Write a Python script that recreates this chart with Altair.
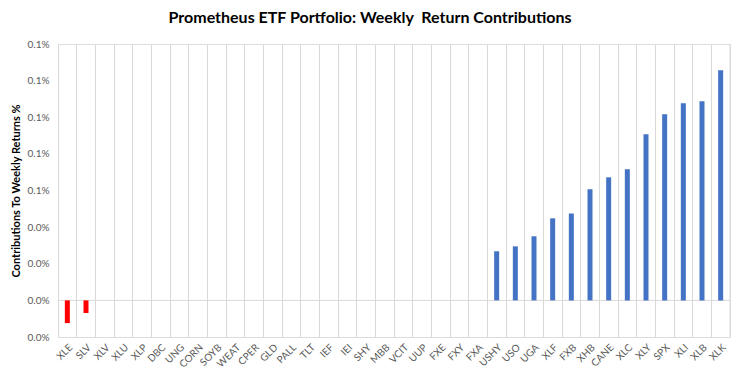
import altair as alt
import pandas as pd

tickers = ["XLE", "SLV", "XLV", "XLU", "XLP", "DBC", "UNG", "CORN", "SOYB", "WEAT",
           "CPER", "GLD", "PALL", "TLT", "IEF", "IEI", "SHY", "MBB", "VCIT", "UUP",
           "FXE", "FXY", "FXA", "USHY", "USO", "UGA", "XLF", "FXB", "XHB", "CANE",
           "XLC", "XLY", "SPX", "XLI", "XLB", "XLK"]
contrib = [-0.0124, -0.0069, 0, 0, 0, 0, 0, 0, 0, 0,
           0, 0, 0, 0, 0, 0, 0, 0, 0, 0,
           0, 0, 0, 0.0268, 0.0295, 0.035, 0.0448, 0.0475, 0.0607, 0.0672,
           0.0716, 0.0907, 0.1016, 0.1077, 0.1087, 0.1257]
y_ticks = [-0.02, 0, 0.02, 0.04, 0.06, 0.08, 0.10, 0.12, 0.14]

df = pd.DataFrame({"ticker": tickers, "value": contrib})
df["color"] = ["#FF0000" if v < 0 else "#4472C4" for v in contrib]
df = df[df["value"] != 0]

W, H = 672, 293
FONT = "Lato"

x_enc = alt.X("ticker:N", sort=tickers, scale=alt.Scale(domain=tickers, paddingInner=0, paddingOuter=0),
              axis=alt.Axis(title=None, labelAngle=-45, labelColor="#595959", labelFontSize=10,
                            labelFont=FONT, domain=False, ticks=False, grid=True, bandPosition=0,
                            gridColor="#D9D9D9", gridWidth=1, labelPadding=5, labelOverlap=False))
y_axis = alt.Axis(title="Contributions To Weekly Returns %", values=y_ticks,
                  labelExpr="format(datum.value, '.1f') + '%'",
                  labelColor="#595959", labelFontSize=10, labelFont=FONT,
                  labelOverlap=False, labelBound=False,
                  titleFont=FONT, titleFontSize=11, titleFontWeight="bold",
                  titleColor="#000000", titlePadding=6, labelPadding=9,
                  domain=False, ticks=False, grid=False)
y_scale = alt.Scale(domain=[-0.02, 0.14], nice=False, zero=False)

bars = alt.Chart(df).mark_bar(size=5).encode(
    x=x_enc, y=alt.Y("value:Q", scale=y_scale, axis=y_axis),
    color=alt.Color("color:N", scale=None)
)

zero_line = alt.Chart(pd.DataFrame({"value": [0]})).mark_rule(color="#D9D9D9", strokeWidth=1).encode(
    y=alt.Y("value:Q", scale=y_scale, axis=y_axis)
)
right_edge = alt.Chart(pd.DataFrame({"a": [0]})).mark_rule(color="#D9D9D9", strokeWidth=1).encode(
    x=alt.value(W), y=alt.value(0), y2=alt.value(H)
)

chart = alt.layer(zero_line, right_edge, bars).properties(
    width=W, height=H,
    autosize=alt.AutoSizeParams(type="none"),
    padding={"left": 50, "top": 36, "right": 10, "bottom": 40},
    title=alt.TitleParams("Prometheus ETF Portfolio: Weekly\u00a0 Return Contributions",
                          font=FONT, fontSize=16, fontWeight="bold", color="#000000",
                          anchor="middle", dx=-24, offset=13)
).configure_view(stroke=None).configure(background="white")

chart.save("out.html", embed_options={"renderer": "svg", "actions": False})
